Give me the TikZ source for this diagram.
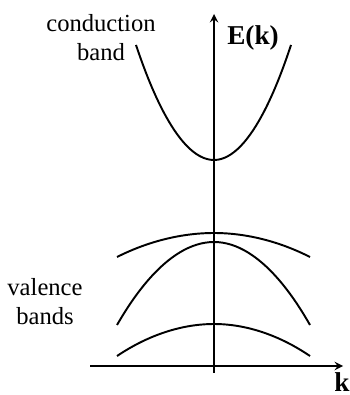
\documentclass[tikz,border=0pt]{standalone}
\usepackage{fontspec}
\setmainfont{Liberation Serif}
\usetikzlibrary{positioning,arrows}

\begin{document}
\begin{tikzpicture}[>=stealth, x=0.02cm, y=0.02cm, line width=1.1pt]
    \tikzstyle{band label} = [align=center, font=\fontsize{14}{16.5}\selectfont, inner sep=0pt]
    \tikzstyle{axis label} = [font=\fontsize{15.5}{17}\selectfont\bfseries, inner sep=0pt]
    \useasboundingbox (0,0) rectangle (349,395);
    % axes
    \coordinate (kstart) at (90,29);
    \coordinate (kend) at (343,29);
    \coordinate (Ebottom) at (214,22);
    \coordinate (Etop) at (214,381);
    \draw[->] (kstart) -- (kend);
    \draw[->] (Ebottom) -- (Etop);
    \node[axis label] (Ek) at (253,357) {E(k)};
    \node[axis label] (k) at (342,13) {k};
    % conduction band
    \coordinate (cleft) at (136,350);
    \coordinate (cmin) at (214,235);
    \coordinate (cright) at (291,350);
    \draw (cleft) parabola bend (cmin) (cright);
    \node[band label] (conduction) at (101,357) {conduction\\band};
    % valence bands
    \coordinate (vAleft) at (117,138);
    \coordinate (vAmax) at (214,162);
    \coordinate (vAright) at (310,138);
    \coordinate (vBleft) at (117,70);
    \coordinate (vBmax) at (214,153);
    \coordinate (vBright) at (310,70);
    \coordinate (vCleft) at (117,39);
    \coordinate (vCmax) at (214,71);
    \coordinate (vCright) at (310,39);
    \draw (vAleft) parabola bend (vAmax) (vAright);
    \draw (vBleft) parabola bend (vBmax) (vBright);
    \draw (vCleft) parabola bend (vCmax) (vCright);
    \node[band label] (valence) at (45,93) {valence\\bands};
\end{tikzpicture}
\end{document}
